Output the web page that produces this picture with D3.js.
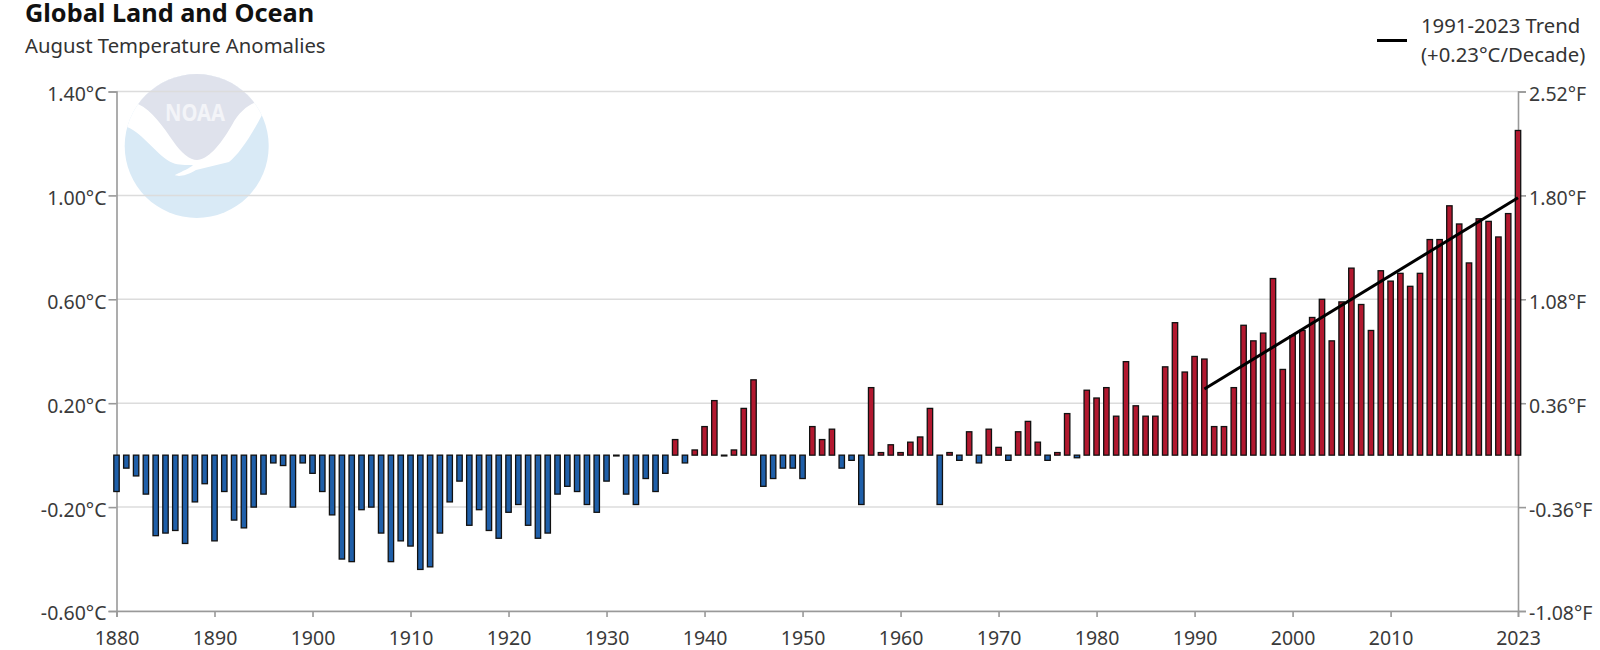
<!DOCTYPE html>
<html>
<head>
<meta charset="utf-8">
<title>Global Land and Ocean</title>
<script src="https://cdn.jsdelivr.net/npm/d3@7"></script>
<style>
  html, body { margin: 0; padding: 0; background: #fff; }
  svg { display: block; }
  text { font-family: "Noto Sans", sans-serif; fill: #333; }
  .axis path, .axis line { stroke: #999; stroke-width: 1.6px; }
  .axis text { font-size: 19.5px; fill: #3a3a3a; }
</style>
</head>
<body>
<svg id="chart" width="1600" height="650"></svg>
<script>
// August anomalies in degrees C
let firstYear = 1880;
let anomalies = [
  -0.14, -0.05, -0.08, -0.15, -0.31, -0.30, -0.29, -0.34, -0.18, -0.11,
  -0.33, -0.14, -0.25, -0.28, -0.20, -0.15, -0.03, -0.04, -0.20, -0.03,
  -0.07, -0.14, -0.23, -0.40, -0.41, -0.21, -0.20, -0.30, -0.41, -0.33,
  -0.35, -0.44, -0.43, -0.30, -0.18, -0.10, -0.27, -0.21, -0.29, -0.32,
  -0.22, -0.19, -0.27, -0.32, -0.30, -0.15, -0.12, -0.14, -0.19, -0.22,
  -0.10, -0.003, -0.15, -0.19, -0.09, -0.14, -0.07, 0.06, -0.03, 0.02,
  0.11, 0.21, -0.003, 0.02, 0.18, 0.29, -0.12, -0.09, -0.05, -0.05,
  -0.09, 0.11, 0.06, 0.10, -0.05, -0.02, -0.19, 0.26, 0.01, 0.04,
  0.01, 0.05, 0.07, 0.18, -0.19, 0.01, -0.02, 0.09, -0.03, 0.10,
  0.03, -0.02, 0.09, 0.13, 0.05, -0.02, 0.01, 0.16, -0.01, 0.25,
  0.22, 0.26, 0.15, 0.36, 0.19, 0.15, 0.15, 0.34, 0.51, 0.32,
  0.38, 0.37, 0.11, 0.11, 0.26, 0.50, 0.44, 0.47, 0.68, 0.33,
  0.46, 0.48, 0.53, 0.60, 0.44, 0.59, 0.72, 0.58, 0.48, 0.71,
  0.67, 0.70, 0.65, 0.70, 0.83, 0.83, 0.96, 0.89, 0.74, 0.91,
  0.90, 0.84, 0.93, 1.25
];
let trendYears = [1991, 2023];
let trendValues = [0.255, 0.991];
let yearTicks = [1880, 1890, 1900, 1910, 1920, 1930, 1940, 1950, 1960, 1970, 1980, 1990, 2000, 2010, 2023];
let celsiusTicks = [-0.6, -0.2, 0.2, 0.6, 1.0, 1.4];
let fahrenheitTicks = [-1.08, -0.36, 0.36, 1.08, 1.80, 2.52];

let margin = {top: 91.5, right: 82, bottom: 39, left: 116.5};
let width = 1600 - margin.left - margin.right;
let height = 650 - margin.top - margin.bottom;

let x = d3.scaleLinear().domain([firstYear, 2023]).range([0, width]);
let y = d3.scaleLinear().domain([-0.6, 1.4]).range([height, 0]);
let yF = d3.scaleLinear().domain([-1.08, 2.52]).range([height, 0]);

let svg = d3.select('#chart');

// NOAA logo sits behind the grid
let logo = svg.append('g').attr('class', 'logo');
logo.append('clipPath').attr('id', 'logo_clip')
  .append('circle').attr('cx', 196.7).attr('cy', 146).attr('r', 72);
let logoInner = logo.append('g').attr('clip-path', 'url(#logo_clip)');
logoInner.append('rect').attr('x', 120).attr('y', 70).attr('width', 155).attr('height', 150)
  .attr('fill', '#d9eaf6');
logoInner.append('path').attr('fill', '#fff')
  .attr('d', 'M120,70 L275,70 L275,100 L262,115 C250,138 238,155 229,162 L196,170 C186,176 178,177 175,175 C183,171 190,168 193,165 C186,165 178,165 173,163 C158,157 143,133 127,127 L120,124 Z');
logoInner.append('path').attr('fill', '#dfe2ec')
  .attr('d', 'M138,104 C152,110 164,128 173,141 C181,153 190,160 197,160 C207,160 220,146 232,125 C238,113 247,106 254,103 L254,60 L138,60 Z');
logo.append('text').attr('x', 165).attr('y', 120.5)
  .attr('textLength', 60).attr('lengthAdjust', 'spacingAndGlyphs')
  .style('font-size', '24px').style('font-weight', 700).style('fill', '#f3f4f8')
  .text('NOAA');

let g = svg.append('g').attr('transform', 'translate(' + margin.left + ',' + margin.top + ')');

// grid lines every 0.2 step of the tick list
g.append('g').selectAll('line')
  .data(celsiusTicks)
  .join('line')
  .attr('x1', 0)
  .attr('x2', width)
  .attr('y1', d => y(d))
  .attr('y2', d => y(d))
  .attr('stroke', '#dcdcdc')
  .attr('stroke-width', 1.5);

g.append('g').attr('class', 'axis')
  .call(d3.axisLeft(y).tickValues(celsiusTicks).tickSize(8).tickPadding(2).tickFormat(d => d.toFixed(2) + '°C'))
  .selectAll('text').attr('dy', '0.46em');

g.append('g').attr('class', 'axis')
  .attr('transform', 'translate(' + width + ',0)')
  .call(d3.axisRight(yF).tickValues(fahrenheitTicks).tickSize(8).tickPadding(3).tickFormat(d => d.toFixed(2) + '°F'))
  .selectAll('text').attr('dy', '0.46em');

g.append('g').attr('class', 'axis')
  .attr('transform', 'translate(0,' + height + ')')
  .call(d3.axisBottom(x).tickValues(yearTicks).tickSize(6).tickPadding(14).tickFormat(d3.format('d')));

g.append('g').selectAll('rect')
  .data(anomalies)
  .join('rect')
  .attr('x', (d, i) => x(firstYear + i) - 2.7)
  .attr('width', 5.4)
  .attr('y', d => y(Math.max(d, 0)))
  .attr('height', d => Math.abs(y(d) - y(0)))
  .attr('fill', d => d < 0 ? '#1f5fa9' : '#b2182f')
  .attr('stroke', '#111')
  .attr('stroke-width', 1.3);

let trendLine = d3.line()
  .x(d => x(d[0]))
  .y(d => y(d[1]));

g.append('path')
  .data([d3.zip(trendYears, trendValues)])
  .attr('fill', 'none')
  .attr('stroke', '#000')
  .attr('stroke-width', 3)
  .attr('d', trendLine);

// title block
svg.append('text').attr('x', 25).attr('y', 21.7)
  .style('font-size', '25.3px').style('font-weight', 700).style('fill', '#111')
  .text('Global Land and Ocean');
svg.append('text').attr('x', 25).attr('y', 52.7)
  .style('font-size', '20.3px')
  .text('August Temperature Anomalies');

// legend
svg.append('line')
  .attr('x1', 1377).attr('x2', 1407).attr('y1', 40.5).attr('y2', 40.5)
  .attr('stroke', '#000').attr('stroke-width', 3);
svg.append('text').attr('x', 1421).attr('y', 33.3)
  .style('font-size', '20.3px')
  .text('1991-2023 Trend');
svg.append('text').attr('x', 1421).attr('y', 62.3)
  .style('font-size', '20.3px')
  .text('(+0.23°C/Decade)');
</script>
</body>
</html>
